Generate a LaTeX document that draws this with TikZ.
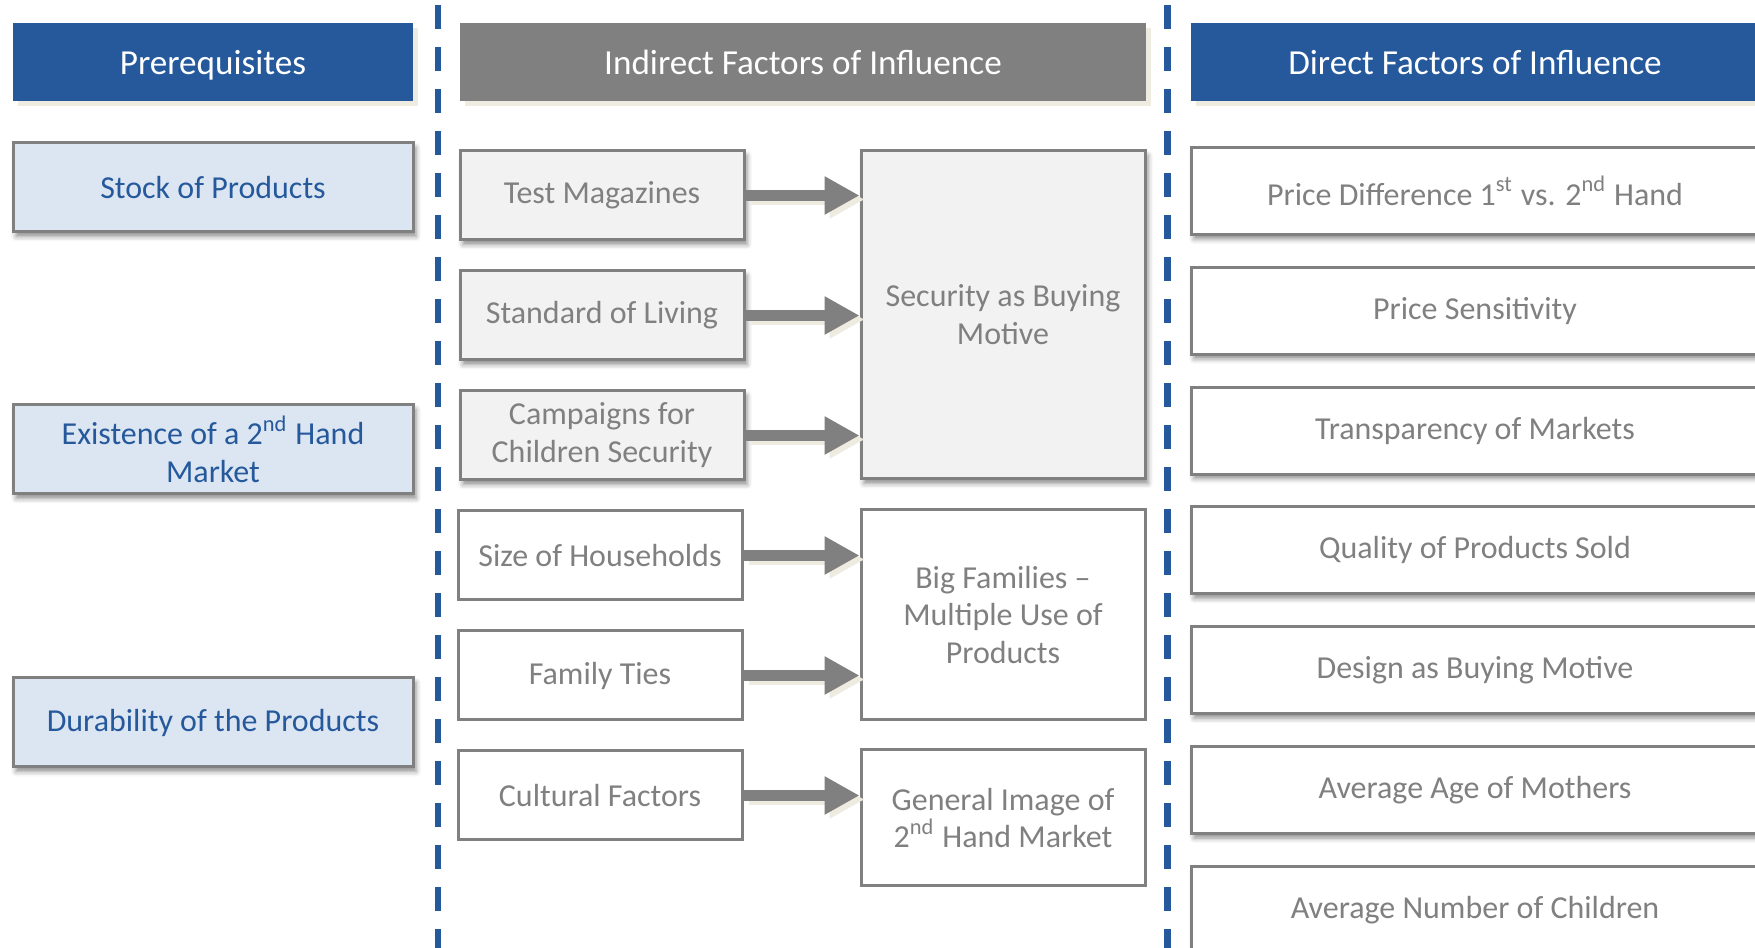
\documentclass[tikz,border=0pt]{standalone}
\usepackage{fontspec}
\setmainfont{Carlito}
\usetikzlibrary{positioning, arrows.meta, shadows, shadows.blur}

\definecolor{hdrblue}{RGB}{37,89,156}
\definecolor{prefill}{RGB}{220,230,242}
\definecolor{framegray}{RGB}{128,128,128}
\definecolor{boxgray}{RGB}{242,242,242}
\definecolor{cream}{RGB}{238,236,225}

\begin{document}
\begin{tikzpicture}[
		% Style for the three column headers
		header/.style={
			minimum height=0.78cm, inner sep=0pt, text=white, text depth=0pt,
			font=\fontsize{10pt}{12pt}\selectfont,
			drop shadow={shadow xshift=0.05cm, shadow yshift=-0.05cm, fill=cream, opacity=1}
		},
		% Common look of all factor boxes
		factor/.style={
			draw=framegray, line width=0.03cm, inner sep=2pt, align=center,
			minimum width=2.84cm, minimum height=0.89cm, text=framegray,
			font=\fontsize{9.1pt}{10.8pt}\selectfont
		},
		softshadow/.style={
			blur shadow={shadow xshift=0.03cm, shadow yshift=-0.045cm,
				shadow blur radius=0.05cm, shadow opacity=45}
		},
		prebox/.style={factor, softshadow, fill=prefill, text=hdrblue, minimum width=4cm},
		greybox/.style={factor, softshadow, fill=boxgray},
		plainbox/.style={factor, fill=white},
		directbox/.style={factor, softshadow, fill=white, minimum width=5.68cm, minimum height=0.87cm},
		% Thick grey arrows and their cream offset
		flow/.style={line width=0.11cm, draw=framegray, -{Triangle[length=0.35cm, width=0.36cm]}},
		flowshadow/.style={flow, draw=cream, transform canvas={xshift=0.05cm, yshift=-0.04cm}},
		divider/.style={draw=hdrblue, line width=0.065cm, dash pattern=on 0.24cm off 0.18cm}
		]
		
		\useasboundingbox (0,0) rectangle (17.55,-9.48);
		
		% --- 1. PREREQUISITES ---
		\node[header, fill=hdrblue, minimum width=4cm] (prereq) at (2.13,-0.62) {Prerequisites};
		\node[prebox] (stock) at (2.13,-1.875) {Stock of Products};
		\node[prebox] (market) at (2.13,-4.495) {Existence of a 2\textsuperscript{nd} Hand\\Market};
		\node[prebox] (durability) at (2.13,-7.225) {Durability of the Products};
		
		% --- 2. INDIRECT FACTORS ---
		\node[header, fill=framegray, minimum width=6.86cm] (indirect) at (8.03,-0.62) {Indirect Factors of Influence};
		\node[greybox] (magazines) at (6.02,-1.955) {Test Magazines};
		\node[greybox, below=0.28cm of magazines] (living) {Standard of Living};
		\node[greybox, below=0.28cm of living] (campaigns) {Campaigns for\\Children Security};
		\node[plainbox, below=0.28cm of campaigns, xshift=-0.02cm] (households) {Size of Households};
		\node[plainbox, below=0.28cm of households] (ties) {Family Ties};
		\node[plainbox, below=0.28cm of ties] (culture) {Cultural Factors};
		
		\node[greybox, minimum height=3.28cm] (security) at (10.03,-3.15) {Security as Buying\\Motive};
		\node[plainbox, minimum height=2.10cm] (families) at (10.03,-6.15) {Big Families --\\Multiple Use of\\Products};
		\node[plainbox, minimum height=1.36cm] (image) at (10.03,-8.18) {General Image of\\2\textsuperscript{nd} Hand Market};
		
		% --- 3. DIRECT FACTORS ---
		\node[header, fill=hdrblue, minimum width=5.68cm] (direct) at (14.75,-0.62) {Direct Factors of Influence};
		\node[directbox] (price) at (14.75,-1.91) {Price Difference 1\textsuperscript{st} vs. 2\textsuperscript{nd} Hand};
		\node[directbox, below=0.298cm of price] (sensitivity) {Price Sensitivity};
		\node[directbox, below=0.298cm of sensitivity] (transparency) {Transparency of Markets};
		\node[directbox, below=0.298cm of transparency] (quality) {Quality of Products Sold};
		\node[directbox, below=0.298cm of quality] (design) {Design as Buying Motive};
		\node[directbox, below=0.298cm of design] (mothers) {Average Age of Mothers};
		\node[directbox, below=0.298cm of mothers] (children) {Average Number of Children};
		
		% --- ARROWS ---
		\draw[flowshadow] (magazines.east) -- (magazines.east -| security.west);
		\draw[flowshadow] (living.east) -- (living.east -| security.west);
		\draw[flowshadow] (campaigns.east) -- (campaigns.east -| security.west);
		\draw[flowshadow] (households.east) -- (households.east -| families.west);
		\draw[flowshadow] (ties.east) -- (ties.east -| families.west);
		\draw[flowshadow] (culture.east) -- (culture.east -| image.west);
		
		\draw[flow] (magazines.east) -- (magazines.east -| security.west);
		\draw[flow] (living.east) -- (living.east -| security.west);
		\draw[flow] (campaigns.east) -- (campaigns.east -| security.west);
		\draw[flow] (households.east) -- (households.east -| families.west);
		\draw[flow] (ties.east) -- (ties.east -| families.west);
		\draw[flow] (culture.east) -- (culture.east -| image.west);
		
		% --- COLUMN DIVIDERS ---
		\draw[divider] (4.38,-0.05) -- (4.38,-9.6);
		\draw[divider] (11.675,-0.05) -- (11.675,-9.6);
		
	\end{tikzpicture}
\end{document}
